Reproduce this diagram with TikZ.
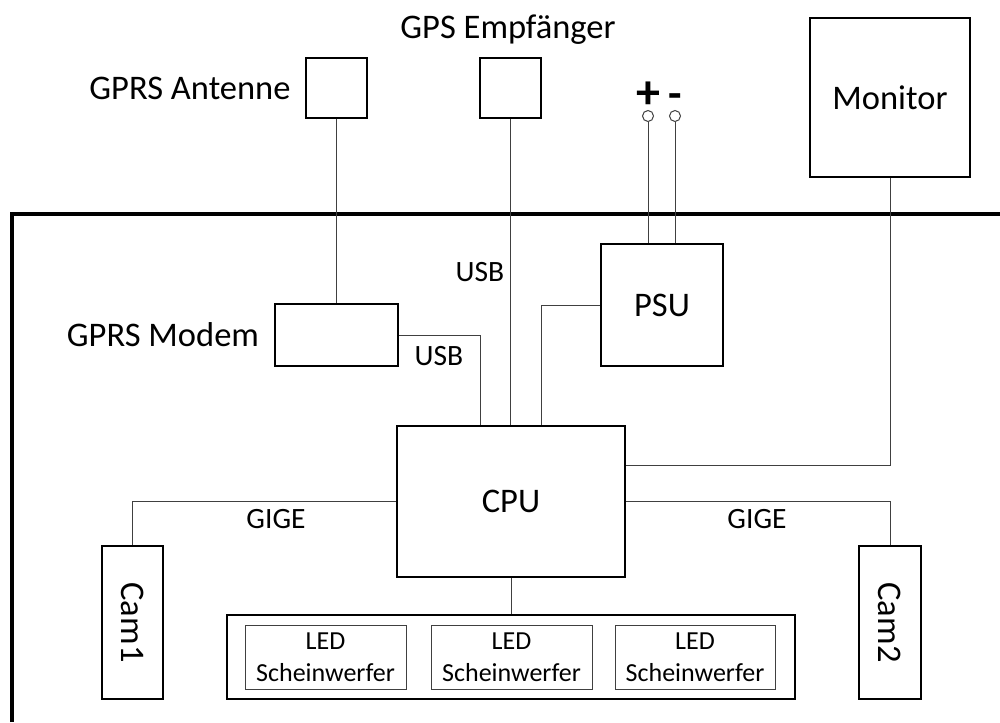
\documentclass[tikz,border=0pt]{standalone}
\usepackage{fontspec}
\setmainfont{Carlito}
\usetikzlibrary{calc}
\tikzset{
  big/.style={font=\fontsize{34.5}{40}\selectfont},
  mid/.style={font=\fontsize{29.5}{32}\selectfont},
  blk/.style={draw=black, line width=2pt, rectangle, inner sep=0pt, big},
  ledbox/.style={draw=black!75, line width=1pt, rectangle, inner sep=0pt, align=center, font=\fontsize{26}{32}\selectfont},
  wire/.style={draw=black!75, line width=1pt},
  term/.style={draw=black!75, line width=1pt, circle, inner sep=0pt, minimum size=11pt},
  lbl/.style={inner sep=0pt},
}
\begin{document}
\begin{tikzpicture}[x=1pt,y=-1pt]
\useasboundingbox[fill=white] (0,0) rectangle (1000,722);
% housing
\draw[line width=4pt, line join=miter] (12,722) -- (12,214) -- (1000,214);
% boxes
\node[blk, minimum width=61pt, minimum height=60pt] (ant) at (336.5,88) {};
\node[blk, minimum width=61pt, minimum height=60pt] (gps) at (510.5,88) {};
\node[blk, minimum width=160pt, minimum height=159pt] (mon) at (890,97.5) {Monitor};
\node[blk, minimum width=122pt, minimum height=122pt] (psu) at (662,305) {PSU};
\node[blk, minimum width=123pt, minimum height=62pt] (modem) at (336.5,335) {};
\node[blk, minimum width=228pt, minimum height=151pt] (cpu) at (511,501.5) {CPU};
\node[blk, minimum width=61pt, minimum height=153pt] (cam1) at (132.5,622.5) {};
\node[big, rotate=-90] (cam1t) at (cam1.center) {Cam1};
\node[blk, minimum width=62pt, minimum height=153pt] (cam2) at (890,622.5) {};
\node[big, rotate=-90] (cam2t) at (cam2.center) {Cam2};
\node[blk, minimum width=568pt, minimum height=84pt] (led) at (511,657) {};
\node[ledbox, minimum width=161pt, minimum height=64pt] (led1) at (325.5,657) {LED\\Scheinwerfer};
\node[ledbox, minimum width=161pt, minimum height=64pt] (led2) at (511.5,657) {LED\\Scheinwerfer};
\node[ledbox, minimum width=160pt, minimum height=64pt] (led3) at (695,657) {LED\\Scheinwerfer};
% terminals
\node[term] (plus) at (648,116) {};
\node[term] (minus) at (675,116) {};
\node[lbl, font=\bfseries\fontsize{48}{50}\selectfont] (plust) at (648,95) {+};
\node[lbl, font=\bfseries\fontsize{44}{50}\selectfont] (minust) at (675.5,101) {-};
% labels
\node[lbl, big] (antt) at (190,88) {GPRS Antenne};
\node[lbl, big] (gpst) at (508,30) {GPS Empfänger};
\node[lbl, big] (modemt) at (163,335) {GPRS Modem};
\node[lbl, mid] (usb1) at (480,272) {USB};
\node[lbl, mid] (usb2) at (439,356) {USB};
\node[lbl, mid] (gige1) at (276,519) {GIGE};
\node[lbl, mid] (gige2) at (757,519) {GIGE};
% wires
\draw[wire] (ant.south) -- (modem.north);
\draw[wire] (gps.south) -- (gps.south |- cpu.north);
\draw[wire] (modem.east) -| ([xshift=84pt]cpu.north west);
\draw[wire] (psu.west) -| ([xshift=145pt]cpu.north west);
\draw[wire] (mon.south) |- ([yshift=36.5pt]cpu.east);
\draw[wire] (cpu.west) -| (cam1.north);
\draw[wire] (cpu.east) -| (cam2.north);
\draw[wire] (cpu.south) -- (led.north);
\draw[wire] (plus.south) -- (plus.south |- psu.north);
\draw[wire] (minus.south) -- (minus.south |- psu.north);
\end{tikzpicture}
\end{document}
